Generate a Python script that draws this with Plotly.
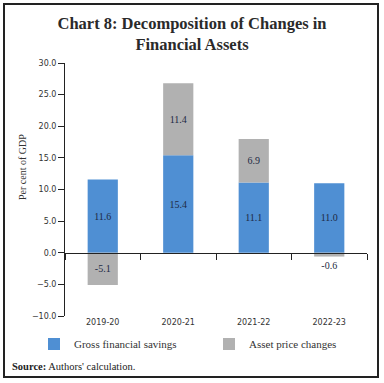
import plotly.graph_objects as go

categories = ["2019-20", "2020-21", "2021-22", "2022-23"]
gross_savings = [11.6, 15.4, 11.1, 11.0]
asset_price = [-5.1, 11.4, 6.9, -0.6]
y_ticks = [-10, -5, 0, 5, 10, 15, 20, 25, 30]

W, H = 384, 383
L, R, T, B = 65, 17, 63, 67
pw, ph = W - L - R, H - T - B

def px(x):
    return (x - L) / pw

def py(y):
    return (H - B - y) / ph

serif = "Liberation Serif"
sans = "DejaVu Sans"
label_color = "#1e2a44"

fig = go.Figure()
fig.add_trace(go.Bar(
    x=categories, y=gross_savings, name="Gross financial savings",
    marker=dict(color="#4f8fd3", line=dict(width=0)),
    text=[f"{v:.1f}" for v in gross_savings], textposition="inside",
    insidetextanchor="middle",
    textfont=dict(family=serif, size=10, color=label_color),
    legend="legend",
))
fig.add_trace(go.Bar(
    x=categories, y=asset_price, name="Asset price changes",
    marker=dict(color="#b1b1b1", line=dict(width=0)),
    text=[f"{v:.1f}" for v in asset_price],
    textposition=["inside", "inside", "inside", "outside"],
    insidetextanchor="middle",
    textfont=dict(family=serif, size=10, color=label_color),
    constraintext="none",
    legend="legend2",
))

legend_common = dict(
    orientation="h", yanchor="middle", y=py(344),
    font=dict(family=serif, size=11, color="#333333"),
    itemwidth=30, bgcolor="rgba(0,0,0,0)",
)

fig.update_layout(
    width=W, height=H,
    margin=dict(l=L, r=R, t=T, b=B, autoexpand=False),
    paper_bgcolor="white", plot_bgcolor="white",
    barmode="relative", bargap=0.6,
    title=dict(
        text="<b>Chart 8: Decomposition of Changes in<br>Financial Assets</b>",
        x=0.5, xanchor="center", y=1 - 29 / H, yanchor="middle",
        font=dict(family=serif, size=16.5, color="#2a2a2a"),
    ),
    xaxis=dict(
        type="category", categoryarray=categories,
        anchor="free", position=0.25,
        showline=True, linecolor="#222222", linewidth=1,
        ticks="outside", tickson="boundaries", ticklen=6, tickcolor="#222222",
        ticklabelstandoff=62,
        tickfont=dict(family=sans, size=8, color="#333333"),
        showgrid=False, zeroline=False, range=[-0.5, 3.5],
    ),
    yaxis=dict(
        range=[-10, 30], tickvals=y_ticks, tickformat=".1f",
        showline=True, linecolor="#222222", linewidth=1,
        ticks="outside", ticklen=6, tickcolor="#222222",
        tickfont=dict(family=sans, size=8, color="#333333"),
        showgrid=False, zeroline=False,
    ),
    legend=dict(x=px(34), xanchor="left", **legend_common),
    legend2=dict(x=px(209), xanchor="left", **legend_common),
    showlegend=True,
)

fig.add_annotation(
    text="Per cent of GDP", xref="paper", yref="paper",
    x=px(22), y=py(167), xanchor="center", yanchor="middle", textangle=-90,
    showarrow=False, font=dict(family=serif, size=10, color="#333333"),
)

fig.add_annotation(
    text="<b>Source:</b> Authors' calculation.", xref="paper", yref="paper",
    x=px(10), y=py(366), xanchor="left", yanchor="middle", showarrow=False,
    font=dict(family=serif, size=10.5, color="#222222"),
)

fig.add_shape(
    type="rect", xref="paper", yref="paper",
    x0=px(4), x1=px(378), y0=py(377), y1=py(4),
    line=dict(color="#222222", width=2), fillcolor="rgba(0,0,0,0)", layer="below",
)

fig.write_html(
    "out.html",
    config=dict(displayModeBar=False),
    post_script="document.body.style.margin='0';document.body.style.padding='0';",
)
